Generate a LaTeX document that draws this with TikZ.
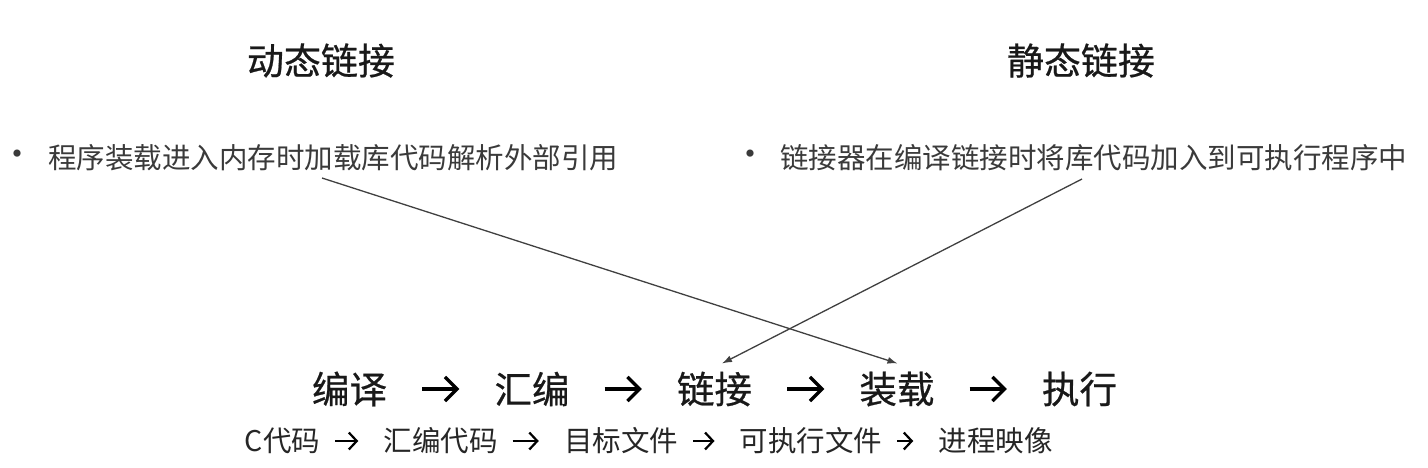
\documentclass[tikz,border=0pt]{standalone}
\usepackage{fontspec}
\setmainfont{Noto Sans CJK SC}
\newfontfamily\heavyfont{Noto Sans CJK SC}[FakeBold=0.6]
\usetikzlibrary{arrows.meta}
\definecolor{notegray}{HTML}{3A3A3A}
\definecolor{linegray}{HTML}{404040}

\begin{document}
\begin{tikzpicture}[x=1pt,y=-1pt,
    title/.style={font=\heavyfont\fontsize{37}{40}\selectfont, text=black!90, inner sep=0},
    note/.style={font=\fontsize{28.5}{32}\selectfont, text=notegray, anchor=west, inner sep=0},
    dot/.style={font=\fontsize{34}{36}\selectfont, text=notegray, inner sep=0},
    stage/.style={font=\heavyfont\fontsize{37.5}{40}\selectfont, text=black!90, inner sep=0},
    file/.style={font=\fontsize{28.5}{32}\selectfont, text=black!85, inner sep=0},
    bigstep/.style={line width=3.3pt, -{Straight Barb[length=12pt,width=24pt]}, shorten <=35pt, shorten >=35pt},
    smallstep/.style={line width=2.2pt, -{Straight Barb[length=8pt,width=17pt]}, shorten <=15pt, shorten >=25pt},
    cross/.style={draw=linegray, line width=1.3pt, -{Latex[length=10pt,width=7pt]}}]
  \useasboundingbox (0,0) rectangle (1428,467);

  % two kinds of linking
  \node[title] (dyntitle) at (321,60.5) {动态链接};
  \node[title] (statitle) at (1081,60.5) {静态链接};

  \node[dot] (dyndot) at (18,158) {•};
  \node[note] (dynnote) at (48,158) {程序装载进入内存时加载库代码解析外部引用};
  \node[dot] (stadot) at (750,158) {•};
  \node[note] (stanote) at (780,158) {链接器在编译链接时将库代码加入到可执行程序中};

  % stages
  \foreach \name/\txt [count=\i from 0] in {comp/编译, asm/汇编, link/链接, load/装载, run/执行} {
    \node[stage] (\name) at (349.5+182.5*\i,389) {\txt};
  }
  \foreach \a/\b in {comp/asm, asm/link, link/load, load/run} {
    \draw[bigstep] (\a) -- (\b);
  }

  % files
  \node[file] (src) at (282.5,441) {C代码};
  \node[file] (asmsrc) at (440.5,441) {汇编代码};
  \node[file] (obj) at (621,441) {目标文件};
  \node[file] (exe) at (811,441) {可执行文件};
  \node[file] (img) at (995.5,441) {进程映像};
  \foreach \a/\b in {src/asmsrc, asmsrc/obj, obj/exe, exe/img} {
    \draw[smallstep] (\a) -- (\b);
  }

  % where the library code comes in
  \coordinate (dynfrom) at (322,178);
  \coordinate (stafrom) at (1082,179);
  \draw[cross] (dynfrom) -- ([shift={(0.5pt,8pt)}]load.north);
  \draw[cross] (stafrom) -- ([shift={(7.5pt,8pt)}]link.north);
\end{tikzpicture}
\end{document}
